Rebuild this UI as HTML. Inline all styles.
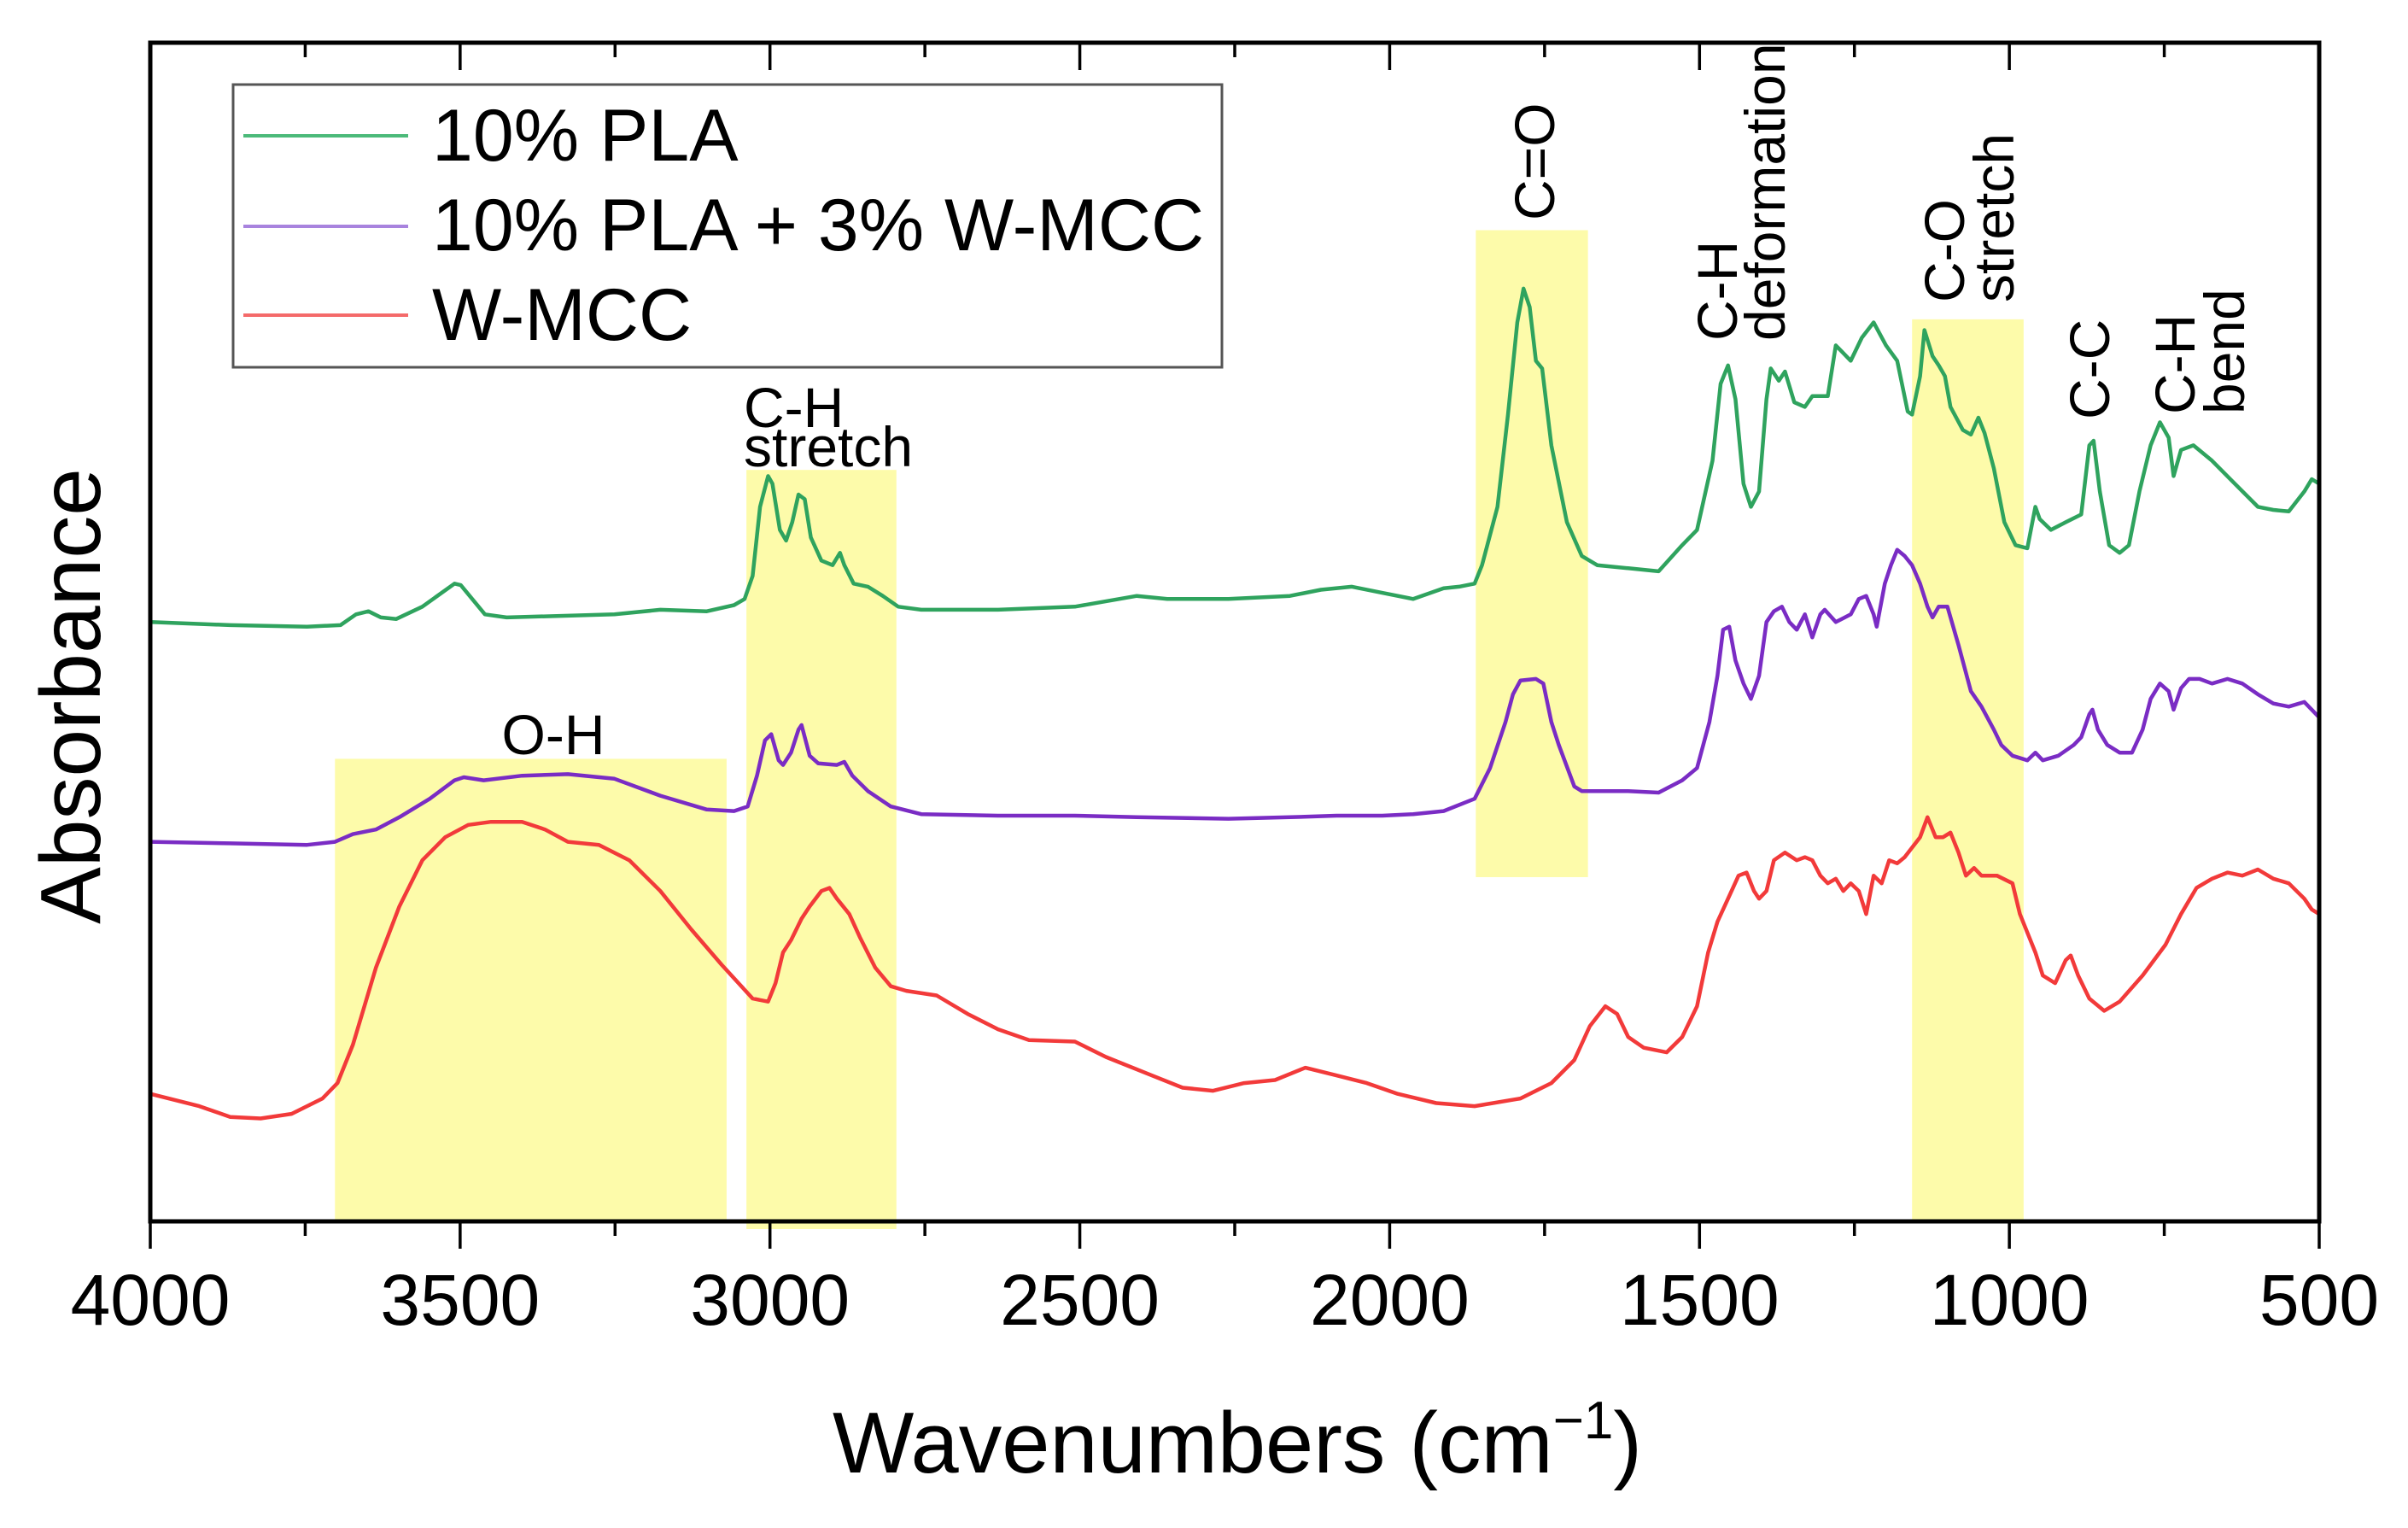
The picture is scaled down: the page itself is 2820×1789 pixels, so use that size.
<!DOCTYPE html>
<html><head><meta charset="utf-8"><style>
html,body{margin:0;padding:0;background:#fff;}
svg{display:block;font-family:"Liberation Sans",sans-serif;}
</style></head><body>
<svg id="chart" width="2820" height="1789" viewBox="0 0 2820 1789" xmlns="http://www.w3.org/2000/svg">
<g id="bands"></g>
<g id="series"></g>
<g id="axes"></g>
<g id="labels"></g>
<g id="legend"></g>
</svg>
<script>
// x axis ticks
const xTicks = [4000, 3500, 3000, 2500, 2000, 1500, 1000, 500];
// highlighted bands [from, to] in wavenumbers, top in absorbance units
const bandFrom = [3702, 3038, 1861, 1157];
const bandTo = [3070, 2796, 1680, 977];
const bandTop = [301, 489, 645, 587];
const bandBottom = [0, -5, 224, 0];

const plaWn = [4000,3871,3747,3693,3668,3648,3628,3603,3561,3509,3499,3460,3425,3251,3177,3102,3058,3041,3028,3016,3003,2996,2984,2974,2964,2954,2944,2934,2917,2899,2887,2880,2865,2842,2818,2793,2756,2632,2508,2408,2359,2260,2161,2111,2061,2012,1962,1913,1888,1863,1851,1826,1809,1794,1784,1774,1764,1754,1739,1714,1690,1665,1615,1566,1528,1504,1479,1466,1454,1442,1429,1417,1404,1392,1385,1372,1362,1347,1330,1318,1293,1280,1268,1256,1238,1219,1199,1181,1164,1157,1144,1137,1124,1114,1104,1095,1075,1062,1050,1040,1025,1008,990,971,958,951,933,909,884,871,864,854,839,822,807,790,772,757,743,735,723,703,673,636,599,574,549,524,512,500];
const plaAbs = [390,388,387,388,395,397,393,392,400,415,414,395,393,395,398,397,401,405,420,465,485,480,450,443,455,473,470,445,430,427,435,427,415,413,407,400,398,398,400,407,405,405,407,411,413,409,405,412,413,415,427,465,525,585,607,595,560,555,505,455,433,427,425,423,440,450,495,545,557,535,480,465,475,535,555,547,553,533,530,537,537,570,565,560,575,585,570,560,527,525,550,580,563,557,550,530,515,512,523,513,490,455,440,438,465,457,450,455,460,505,508,475,440,435,440,475,505,520,510,485,502,505,495,480,465,463,462,475,483,480];

const mixWn = [4000,3871,3747,3702,3673,3636,3598,3549,3509,3494,3462,3400,3326,3251,3177,3102,3058,3036,3021,3008,2998,2986,2979,2966,2954,2949,2936,2922,2892,2880,2867,2842,2805,2756,2632,2508,2408,2260,2161,2086,2012,1962,1913,1863,1838,1813,1801,1789,1764,1752,1739,1727,1702,1690,1615,1566,1528,1504,1484,1471,1462,1452,1442,1429,1417,1404,1392,1380,1367,1355,1343,1330,1318,1305,1298,1280,1256,1243,1231,1219,1214,1201,1191,1181,1169,1157,1144,1132,1124,1114,1100,1082,1062,1045,1025,1013,995,971,958,946,921,896,884,871,866,857,842,822,802,785,772,757,743,735,723,710,693,673,648,624,599,574,549,524,512,500];
const mixAbs = [247,246,245,247,252,255,263,275,287,289,287,290,291,288,277,268,267,270,290,313,317,300,297,305,320,323,303,298,297,299,290,280,270,265,264,264,263,262,263,264,264,265,267,275,295,325,343,352,353,350,325,310,283,280,280,279,287,295,325,355,385,387,365,350,340,355,390,397,400,390,385,395,380,395,398,390,395,405,407,395,387,415,427,437,433,427,415,400,393,400,400,375,345,335,320,310,303,300,305,300,303,310,315,330,333,320,310,305,305,320,340,350,345,333,347,353,353,350,353,350,343,337,335,338,333,328];

const mccWn = [4000,3921,3871,3822,3772,3722,3698,3673,3636,3598,3561,3524,3487,3450,3400,3363,3326,3276,3227,3177,3127,3078,3028,3003,2991,2979,2966,2949,2936,2917,2904,2892,2872,2855,2830,2805,2780,2731,2681,2632,2582,2508,2458,2384,2334,2285,2235,2185,2136,2086,2037,1987,1925,1863,1789,1739,1702,1677,1652,1633,1615,1590,1553,1528,1504,1486,1471,1454,1437,1424,1412,1404,1392,1380,1362,1343,1330,1318,1305,1293,1280,1268,1256,1243,1231,1219,1206,1194,1181,1169,1144,1132,1119,1107,1095,1082,1070,1057,1045,1020,995,983,958,946,926,909,901,889,871,847,822,785,748,723,698,673,648,624,599,574,549,524,512,500];
const mccAbs = [83,75,68,67,70,80,90,115,165,205,235,250,258,260,260,255,247,245,235,215,190,167,145,143,155,175,183,197,205,215,217,210,200,185,165,153,150,147,135,125,118,117,107,95,87,85,90,92,100,95,90,83,77,75,80,90,105,127,140,135,120,113,110,120,140,175,195,210,225,227,215,210,215,235,240,235,237,235,225,220,223,215,220,215,200,225,220,235,233,237,250,263,250,250,253,240,225,230,225,225,220,200,175,160,155,170,173,160,145,137,143,160,180,200,217,223,227,225,229,223,220,210,203,200];

const seriesNames = ["10% PLA", "10% PLA + 3% W-MCC", "W-MCC"];
const NS = "http://www.w3.org/2000/svg";
const X0 = 176, X1 = 2716, Y0 = 1430, Y1 = 50;
const xMax = 4000, xMin = 500, yMin = 0, yMax = 767;
function xs(v){ return X0 + (xMax - v) / (xMax - xMin) * (X1 - X0); }
function ys(v){ return Y0 - (v - yMin) / (yMax - yMin) * (Y0 - Y1); }
function mk(tag, attrs, parent){
  const e = document.createElementNS(NS, tag);
  for (const k in attrs) e.setAttribute(k, attrs[k]);
  parent.appendChild(e); return e;
}
const bandsG = document.getElementById('bands');
for (let i = 0; i < bandFrom.length; i++){
  const r = mk('rect', {x: xs(bandFrom[i]), y: ys(bandTop[i]), width: xs(bandTo[i]) - xs(bandFrom[i]), height: ys(bandBottom[i]) - ys(bandTop[i]), fill: '#fdfbaa'}, bandsG);
  
  
}
const seriesG = document.getElementById('series');
const seriesWn = [plaWn, mixWn, mccWn];
const seriesAbs = [plaAbs, mixAbs, mccAbs];
const colors = ['#2fa35e', '#7a2cc4', '#f23a3a'];
const lineNames = ['line-10pct-pla', 'line-pla-wmcc', 'line-wmcc'];
for (let s = 0; s < 3; s++){
  let d = '';
  for (let i = 0; i < seriesWn[s].length; i++){
    d += (i ? 'L' : 'M') + xs(seriesWn[s][i]).toFixed(1) + ',' + ys(seriesAbs[s][i]).toFixed(1);
  }
  const p = mk('path', {d: d, fill: 'none', stroke: colors[s], 'stroke-width': 4.5, 'stroke-linejoin': 'round'}, seriesG);
  
  
}
const axesG = document.getElementById('axes');
const frame = mk('rect', {x: X0, y: Y1, width: X1 - X0, height: Y0 - Y1, fill: 'none', stroke: '#000', 'stroke-width': 5}, axesG);


for (let v = 4000; v >= 500; v -= 250){
  const major = (v % 500 === 0);
  const x = xs(v);
  const t1 = mk('line', {x1: x, x2: x, y1: Y0, y2: Y0 + (major ? 32 : 17), stroke: '#000', 'stroke-width': 3.5}, axesG);
  
  
  const t2 = mk('line', {x1: x, x2: x, y1: Y1, y2: Y1 + (major ? 32 : 17), stroke: '#000', 'stroke-width': 3.5}, axesG);
  
  
}
for (let i = 0; i < xTicks.length; i++){
  const t = mk('text', {x: xs(xTicks[i]), y: 1551, 'font-size': 84, 'text-anchor': 'middle', fill: '#000'}, axesG);
  t.textContent = xTicks[i];
  
  
}
const xt = mk('text', {x: 1449, y: 1724, 'font-size': 101, 'text-anchor': 'middle', fill: '#000'}, axesG);
xt.innerHTML = 'Wavenumbers (cm<tspan dy="-40" font-size="62">−1</tspan><tspan dy="40">)</tspan>';


const yt = mk('text', {x: 0, y: 0, 'font-size': 100, 'text-anchor': 'middle', fill: '#000', transform: 'translate(117,815) rotate(-90)'}, axesG);
yt.textContent = 'Absorbance';



const labelsG = document.getElementById('labels');
function hlabel(txt, x, y, anchor, name){
  const t = mk('text', {x: x, y: y, 'font-size': 66, 'text-anchor': anchor, fill: '#000'}, labelsG);
  t.textContent = txt;
  
  
}
function vlabel(txt, x, y, name){
  const t = mk('text', {x: 0, y: 0, 'font-size': 66, fill: '#000', transform: 'translate(' + x + ',' + y + ') rotate(-90)'}, labelsG);
  t.textContent = txt;
  
  
}
hlabel('O-H', 648, 883, 'middle', 'label-oh');
hlabel('C-H', 871, 500, 'start', 'label-ch-stretch');
hlabel('stretch', 871, 546, 'start', 'label-ch-stretch-2');
vlabel('C=O', 1820, 258, 'label-co-double');
vlabel('C-H', 2034, 399, 'label-ch-deformation');
vlabel('deformation', 2090, 399, 'label-ch-deformation-2');
vlabel('C-O', 2300, 354, 'label-co-stretch');
vlabel('stretch', 2358, 354, 'label-co-stretch-2');
vlabel('C-C', 2470, 491, 'label-cc');
vlabel('C-H', 2570, 485, 'label-ch-bend');
vlabel('bend', 2628, 485, 'label-ch-bend-2');

const legendG = document.getElementById('legend');
const lb = mk('rect', {x: 273, y: 99, width: 1158, height: 331, fill: '#fff', stroke: '#555', 'stroke-width': 3}, legendG);


const legendColors = ['#4cba7a', '#a883de', '#f46a6a'];
const legendLineY = [159, 265, 369];
const legendTextY = [188, 293, 398];
for (let i = 0; i < 3; i++){
  const l = mk('line', {x1: 285, x2: 478, y1: legendLineY[i], y2: legendLineY[i], stroke: legendColors[i], 'stroke-width': 4}, legendG);
  
  
  const t = mk('text', {x: 506, y: legendTextY[i], 'font-size': 86, fill: '#000'}, legendG);
  t.textContent = seriesNames[i];
  
  
}
</script>
</body></html>
